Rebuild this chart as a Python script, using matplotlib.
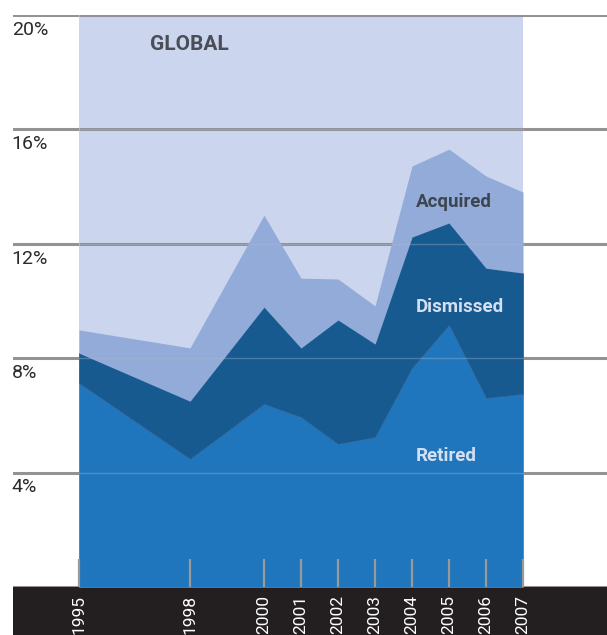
import matplotlib
matplotlib.use("Agg")
import matplotlib.pyplot as plt
import matplotlib.transforms as mtransforms
import numpy as np

years = [1995, 1998, 2000, 2001, 2002, 2003, 2004, 2005, 2006, 2007]
year_labels = ["1995", "1998", "2000", "2001", "2002", "2003", "2004", "2005", "2006", "2007"]
retired = [7.13, 4.48, 6.40, 5.94, 5.00, 5.24, 7.66, 9.16, 6.61, 6.75]
dismissed = [1.05, 2.02, 3.39, 2.42, 4.34, 3.26, 4.58, 3.57, 4.54, 4.23]
acquired = [0.81, 1.86, 3.21, 2.44, 1.43, 1.33, 2.48, 2.58, 3.22, 2.83]
y_ticks = [4, 8, 12, 16, 20]
y_tick_labels = ["4%", "8%", "12%", "16%", "20%"]

c_bg = "#cbd6ee"
c_acq = "#92abd9"
c_dis = "#175a90"
c_ret = "#1f76bc"

W, H = 607, 635
fig = plt.figure(figsize=(W / 100, H / 100), dpi=100)
left = 13 / W
bottom = 48 / H
top = (H - 15) / H

# dark bottom bar
bar = fig.add_axes([left, 0, 1 - left, bottom], zorder=0)
bar.set_facecolor("#231f20")
bar.set_xticks([])
bar.set_yticks([])
for s in bar.spines.values():
    s.set_visible(False)

ax = fig.add_axes([left, bottom, 1 - left, top - bottom], zorder=1)

x0 = years[0] - 66 / 37
x1 = years[-1] + 84 / 37
ax.set_xlim(x0, x1)
ax.set_ylim(0, 20)

# full-width gray gridlines
for v in [0] + y_ticks:
    ax.axhline(v, color="#939393", lw=2.2, zorder=0)

ax.fill_between([years[0], years[-1]], 0, 20, color=c_bg, lw=0, zorder=1)
for v in y_ticks:
    ax.plot([years[0], years[-1]], [v, v], color="#8e9199", lw=2.2, zorder=1.5,
            solid_capstyle="butt")
polys = ax.stackplot(years, retired, dismissed, acquired, colors=[c_ret, c_dis, c_acq],
                     lw=0.6, zorder=2)
for p, ec in zip(polys, ["#3f86c6", "#2a659c", c_acq]):
    p.set_edgecolor(ec)
polys[2].set_linewidth(0)

# faint gridlines showing through the areas
for v in y_ticks[:-1]:
    ax.plot([years[0], years[-1]], [v, v], color="#b0bccf", lw=1.0, alpha=0.35, zorder=3)

trans = mtransforms.blended_transform_factory(ax.transAxes, ax.transData)
for v, lab in zip(y_ticks, y_tick_labels):
    ax.text(-0.002, v - 0.2, lab, transform=trans, ha="left", va="top",
            fontsize=14, color="#2b2b2b", family="Roboto", fontweight="normal")

for s in ax.spines.values():
    s.set_visible(False)
ax.set_yticks([])
ax.set_xticks(years)
ax.set_xticklabels(year_labels, rotation=90, color="white", fontsize=12.5,
                   family="Roboto", va="top", ha="center")
ax.tick_params(axis="x", direction="in", length=20, width=1.6, color="#9a9a9a", pad=6)
for t in ax.xaxis.get_major_ticks():
    t.tick1line.set_zorder(5)
ax.set_axisbelow(False)
ax.patch.set_alpha(0)

ax.text(1996.92, 18.98, "GLOBAL", fontsize=15, fontweight="bold", color="#4a4e57",
        family="Roboto", ha="left", va="center")
ax.text(2004.1, 13.47, "Acquired", fontsize=13.5, fontweight="bold", color="#3d4550",
        family="Roboto", ha="left", va="center")
ax.text(2004.1, 9.8, "Dismissed", fontsize=13.5, fontweight="bold", color="#d4e0f2",
        family="Roboto", ha="left", va="center")
ax.text(2004.1, 4.58, "Retired", fontsize=13.5, fontweight="bold", color="#d4e0f2",
        family="Roboto", ha="left", va="center")

fig.savefig("out.png", dpi=100)
